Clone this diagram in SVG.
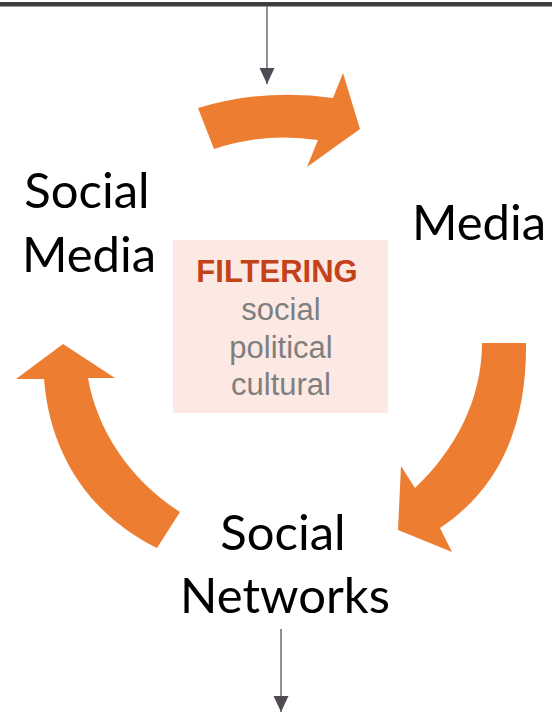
<svg xmlns="http://www.w3.org/2000/svg" width="552" height="712" viewBox="0 0 552 712">
  <style>
    .label { font-family: Lato, "Liberation Sans", sans-serif; font-size: 49px; fill: #000; text-anchor: middle; }
    .cycle { fill: #ED7D31; }
    .flow { stroke: #77737a; stroke-width: 1.6; fill: none; marker-end: url(#head); }
    .filter-title { font-family: "Liberation Sans", Arial, sans-serif; font-size: 31px; font-weight: bold; fill: #C4421A; text-anchor: middle; }
    .filter-item { font-family: "Liberation Sans", Arial, sans-serif; font-size: 31px; fill: #7F7F7F; text-anchor: middle; }
  </style>
  <defs>
    <!-- filled triangular head, drawn pointing along +x so orient="auto" follows the line -->
    <marker id="head" markerUnits="userSpaceOnUse" markerWidth="16" markerHeight="16" viewBox="0 0 16 16" refX="16" refY="8" orient="auto">
      <path d="M0,0.5 L16,8 L0,15.5 Z" fill="#514b55"/>
    </marker>
  </defs>

  <rect x="0" y="2" width="552" height="4.5" fill="#3d3c3f"/>

  <g id="connectors">
    <line class="flow" x1="267" y1="6" x2="267" y2="84"/>
    <line class="flow" x1="281" y1="629" x2="281" y2="712"/>
    <path id="arrow-top" class="cycle" d="M198,108 Q265,88 333,98 L343,73 L360,129 L307,167 L318,140 Q265,132 214,149 Z"/>
    <path id="arrow-right" class="cycle" d="M482,343 L526,343 C527,425 500,488 440,528 L452,552 L398,530 L401,466 L415,488 C455,450 482,400 482,343 Z"/>
    <path id="arrow-left" class="cycle" d="M63,344 L115,378 L88,378 C97,430 130,480 180,512 L157,548 C90,515 50,455 44,379 L16,379 Z"/>
  </g>

  <g id="filtering">
    <rect x="173" y="240" width="215" height="173" fill="#FCE9E3"/>
    <text class="filter-title" x="277" y="282">FILTERING</text>
    <text class="filter-item" x="281" y="320">social</text>
    <text class="filter-item" x="281" y="358">political</text>
    <text class="filter-item" x="281" y="395">cultural</text>
  </g>

  <g id="social-media">
    <text class="label" x="87" y="208">Social</text>
    <text class="label" x="89" y="272">Media</text>
  </g>

  <g id="media">
    <text class="label" x="479" y="240">Media</text>
  </g>

  <g id="social-networks">
    <text class="label" x="283" y="550">Social</text>
    <text class="label" x="285" y="613">Networks</text>
  </g>
</svg>
